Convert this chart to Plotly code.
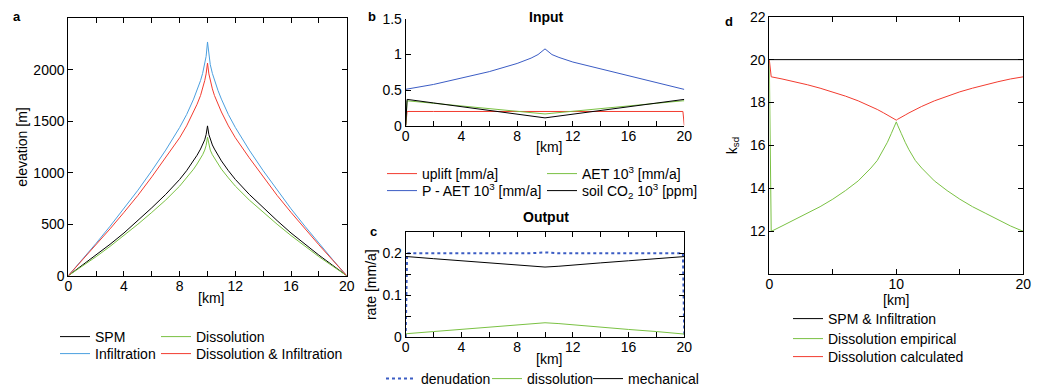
import plotly.graph_objects as go

# page is drawn with an 8px body offset; figure spans the rest of the 1044x389 window
OX, OY = 8, 8
W, H = 1044 - OX, 389 - OY
FONT = "Liberation Sans, Arial, sans-serif"

# ---------------- Panel a: elevation profiles ----------------
x_km = [0, 1, 2, 3, 4, 5, 6, 7, 8, 8.5, 9, 9.25, 9.5, 9.65, 9.8, 9.9, 10,
        10.1, 10.2, 10.35, 10.5, 10.75, 11, 11.5, 12, 13, 14, 15, 16, 17, 18, 19, 20]
elev_spm = [0, 100, 200, 305, 415, 535, 660, 790, 935, 1020, 1115, 1170, 1230, 1270, 1320, 1370, 1455,
            1370, 1320, 1270, 1230, 1170, 1115, 1020, 935, 790, 660, 535, 415, 305, 200, 100, 0]
elev_infiltration = [0, 155, 315, 480, 650, 830, 1020, 1220, 1440, 1565, 1715, 1800, 1895, 1965, 2050, 2130, 2270,
                     2130, 2050, 1965, 1895, 1800, 1715, 1565, 1440, 1220, 1020, 830, 650, 480, 315, 155, 0]
elev_dissolution = [0, 92, 185, 285, 390, 500, 615, 735, 870, 950, 1035, 1085, 1140, 1175, 1220, 1265, 1345,
                    1265, 1220, 1175, 1140, 1085, 1035, 950, 870, 735, 615, 500, 390, 285, 185, 92, 0]
elev_diss_infil = [0, 150, 300, 455, 615, 780, 960, 1145, 1340, 1455, 1590, 1665, 1750, 1815, 1895, 1960, 2065,
                   1960, 1895, 1815, 1750, 1665, 1590, 1455, 1340, 1145, 960, 780, 615, 455, 300, 150, 0]

# ---------------- Panel b: input ----------------
x_in = [0, 0.1, 2, 4, 6, 8, 9, 9.5, 10, 10.5, 11, 12, 14, 16, 18, 19.9, 20]
uplift = [0, 0.2, 0.2, 0.2, 0.2, 0.2, 0.2, 0.2, 0.2, 0.2, 0.2, 0.2, 0.2, 0.2, 0.2, 0.2, 0]
p_aet = [0.51, 0.515, 0.58, 0.665, 0.76, 0.875, 0.95, 1.0, 1.08, 1.0, 0.96, 0.895, 0.8, 0.71, 0.615, 0.515, 0.51]
aet = [0, 0.35, 0.315, 0.28, 0.245, 0.205, 0.185, 0.175, 0.165, 0.175, 0.185, 0.205, 0.245, 0.28, 0.315, 0.35, 0.35]
soil_co2 = [0, 0.37, 0.32, 0.27, 0.215, 0.162, 0.136, 0.123, 0.11, 0.123, 0.136, 0.162, 0.215, 0.27, 0.32, 0.37, 0.37]

# ---------------- Panel c: output ----------------
x_out = [0, 0.1, 2, 4, 6, 8, 9, 10, 11, 12, 14, 16, 18, 19.9, 20]
denudation = [0, 0.2, 0.2, 0.2, 0.2, 0.2, 0.2, 0.202, 0.2, 0.2, 0.2, 0.2, 0.2, 0.2, 0]
dissolution = [0.007, 0.008, 0.013, 0.018, 0.023, 0.029, 0.032, 0.034, 0.032, 0.029, 0.023, 0.018, 0.013, 0.008, 0.007]
mechanical = [0.192, 0.192, 0.187, 0.182, 0.177, 0.172, 0.169, 0.167, 0.169, 0.172, 0.177, 0.182, 0.187, 0.192, 0.192]

# ---------------- Panel d: k_sd ----------------
x_k = [0, 0.15, 1, 2, 3, 4, 5, 6, 7, 8, 8.5, 9, 9.3, 9.6, 9.8, 9.9, 10,
       10.1, 10.2, 10.4, 10.7, 11, 11.5, 12, 13, 14, 15, 16, 17, 18, 19, 20]
k_spm = [20] * len(x_k)
k_empirical = [20, 12.0, 12.25, 12.55, 12.85, 13.15, 13.5, 13.9, 14.35, 14.95, 15.3, 15.8, 16.15, 16.55, 16.8, 16.95, 17.1,
               16.95, 16.8, 16.55, 16.15, 15.8, 15.3, 14.95, 14.35, 13.9, 13.5, 13.15, 12.85, 12.55, 12.25, 12.0]
k_calculated = [20, 19.2, 19.1, 18.97, 18.83, 18.67, 18.5, 18.3, 18.08, 17.82, 17.68, 17.52, 17.42, 17.32, 17.26, 17.22, 17.18,
                17.22, 17.26, 17.32, 17.42, 17.52, 17.68, 17.82, 18.08, 18.3, 18.5, 18.67, 18.83, 18.97, 19.1, 19.2]

BLACK = "#000000"
LBLUE = "#4b9fdf"
RED = "#f23b2f"
GREEN = "#7ac143"
DBLUE = "#3b5cc4"

fig = go.Figure()

def px(v):
    return (v - OX) / W

def py(v):
    return 1 - (v - OY) / H

legfont = dict(family=FONT, size=14, color="black")
legends = {}
counter = [0]

def line(x, y, name, color, xa, ya, lx, ly, dash=None, width=1):
    counter[0] += 1
    key = "legend" if counter[0] == 1 else f"legend{counter[0]}"
    legends[key] = dict(x=px(lx - 40), y=py(ly), xanchor="left",
                        yanchor="middle", font=legfont, bgcolor="rgba(0,0,0,0)",
                        borderwidth=0, itemwidth=30)
    fig.add_trace(go.Scatter(x=x, y=y, name=name, mode="lines",
                             line=dict(color=color, width=width, dash=dash),
                             xaxis=xa, yaxis=ya, legend=key))

# a
line(x_km, elev_spm, "SPM", BLACK, "x", "y", 95, 337)
line(x_km, elev_infiltration, "Infiltration", LBLUE, "x", "y", 95, 354)
line(x_km, elev_dissolution, "Dissolution", GREEN, "x", "y", 196, 337)
line(x_km, elev_diss_infil, "Dissolution & Infiltration", RED, "x", "y", 196, 354)
# b
line(x_in, uplift, "uplift [mm/a]", RED, "x2", "y2", 422, 174)
line(x_in, p_aet, "P - AET 10<sup>3</sup> [mm/a]", DBLUE, "x2", "y2", 422, 191)
line(x_in, aet, "AET 10<sup>3</sup> [mm/a]", GREEN, "x2", "y2", 582, 174)
line(x_in, soil_co2, "soil CO<sub>2</sub> 10<sup>3</sup> [ppm]", BLACK, "x2", "y2", 582, 191)
# c
line(x_out, denudation, "denudation", DBLUE, "x3", "y3", 421, 379, dash="dot", width=2)
line(x_out, dissolution, "dissolution", GREEN, "x3", "y3", 527, 379)
line(x_out, mechanical, "mechanical", BLACK, "x3", "y3", 628, 379)
# d
line(x_k, k_spm, "SPM & Infiltration", BLACK, "x4", "y4", 828, 319)
line(x_k, k_empirical, "Dissolution empirical", GREEN, "x4", "y4", 828, 339)
line(x_k, k_calculated, "Dissolution calculated", RED, "x4", "y4", 828, 357)

tickfont = dict(family=FONT, size=14, color="black")

def axis(domain, rng, anchor, mirror=True, **kw):
    d = dict(domain=domain, range=rng, anchor=anchor, showline=True, linecolor="black",
             linewidth=1, mirror="ticks" if mirror else False, ticks="inside", ticklen=5,
             tickcolor="black", tickwidth=1, showgrid=False, zeroline=False,
             tickfont=tickfont, automargin=False)
    d.update(kw)
    return d

minor = lambda dt: dict(dtick=dt, ticks="inside", ticklen=5, tickcolor="black", tickwidth=1, showgrid=False)

xa_dom = [px(68.3), px(346.7)]
xb_dom = [px(405.7), px(684.3)]
xd_dom = [px(769.3), px(1023.3)]

ytitle = lambda t, s: dict(text=t, standoff=s, font=dict(family=FONT, size=14, color="black"))
XSO = -3

fig.update_layout(
    width=W, height=H,
    margin=dict(l=0, r=0, t=0, b=0, autoexpand=False),
    paper_bgcolor="white", plot_bgcolor="white",
    font=dict(family=FONT, size=14, color="black"),
    xaxis=axis(xa_dom, [0, 20], "y", tick0=0, dtick=4, minor=minor(2), ticklabelstandoff=XSO),
    yaxis=axis([py(275.7), py(18.3)], [0, 2500], "x", tickvals=[0, 500, 1000, 1500, 2000],
               title=ytitle("elevation [m]", 2)),
    xaxis2=axis(xb_dom, [0, 20], "y2", mirror=False, tick0=0, dtick=4, minor=minor(2), ticklabelstandoff=XSO),
    yaxis2=axis([py(125.7), py(19)], [0, 1.5], "x2", mirror=False, tickvals=[0, 0.5, 1, 1.5]),
    xaxis3=axis(xb_dom, [0, 20], "y3", tick0=0, dtick=4, minor=minor(2), ticklabelstandoff=XSO),
    yaxis3=axis([py(337), py(232.3)], [0, 0.25], "x3", tickvals=[0, 0.1, 0.2], minor=minor(0.05),
                title=ytitle("rate [mm/a]", 2)),
    xaxis4=axis(xd_dom, [0, 20], "y4", tick0=0, dtick=10, minor=minor(5), ticklabelstandoff=XSO),
    yaxis4=axis([py(274.3), py(16.7)], [10, 22], "x4", tickvals=[12, 14, 16, 18, 20, 22],
                title=ytitle("k<sub>sd</sub>", 9)),
    showlegend=True,
    **legends,
)

annots = [
    ("<b>a</b>", 17, 16, 13), ("<b>b</b>", 372, 17, 13), ("<b>c</b>", 373, 231, 13), ("<b>d</b>", 729, 21, 13),
    ("<b>Input</b>", 546, 17, 14), ("<b>Output</b>", 546, 217, 14),
    ("[km]", 211, 298, 14), ("[km]", 549, 147, 14), ("[km]", 549, 359, 14), ("[km]", 896, 300, 14),
]
for text, x, y, s in annots:
    fig.add_annotation(text=text, x=px(x), y=py(y), xref="paper", yref="paper",
                       xanchor="center", yanchor="middle", showarrow=False,
                       font=dict(family=FONT, size=s, color="black"))

fig.write_html("out.html")
